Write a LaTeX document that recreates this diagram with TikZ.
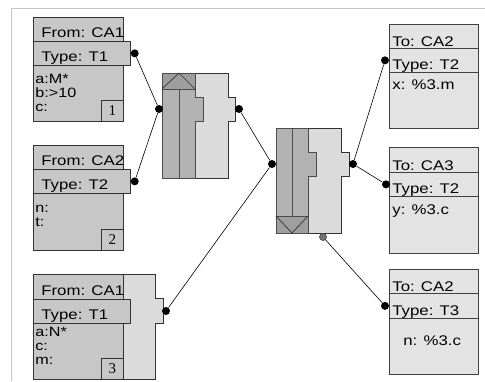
\documentclass[tikz,border=0pt]{standalone}
\usepackage{fontspec}
\setmainfont{Liberation Sans}[FakeStretch=1.2]
\newfontfamily\numfont{Liberation Serif}
\usetikzlibrary{positioning}

\begin{document}
\begin{tikzpicture}[
x=1pt,y=-1pt,
line width=0.7pt,
hd/.style={font=\fontsize{14}{14}\selectfont,inner sep=0pt,anchor=base west},
bd/.style={font=\fontsize{13.5}{14}\selectfont,inner sep=0pt,anchor=base west,align=left},
srcrow/.style={draw=black!80,fill=black!22,inner sep=0pt,anchor=north west,minimum height=24pt},
dstrow/.style={draw=black!75,fill=black!11,inner sep=0pt,anchor=north west,minimum width=89pt,minimum height=24pt},
numbox/.style={draw=black!80,fill=black!22,inner sep=0pt,anchor=south east,minimum width=22pt,minimum height=21pt,font=\numfont\fontsize{15}{15}\selectfont},
dot/.style={circle,fill=black,inner sep=0pt,minimum size=8pt},
gdot/.style={circle,draw=black!70,fill=black!55,inner sep=0pt,minimum size=7pt},
wire/.style={black,line width=0.6pt},
lite/.style={draw=black!80,fill=black!14},
dark/.style={draw=black!70,fill=black!30},
strip/.style={draw=black!70,fill=black!38}]
\useasboundingbox (0,0) rectangle (485,381);
\draw[black!22] (11,381) -- (11,8) -- (485,8);

% source 1
\node[srcrow,minimum width=90pt] (f1) at (33,17) {};
\node[srcrow,minimum width=90pt,minimum height=56pt] (b1) at (33,65) {};
\node[srcrow,minimum width=97pt] (t1) at (33,41) {};
\node[numbox] (n1) at (b1.south east) {1};
\node[hd] (f1t) at ([xshift=8pt,yshift=4pt]f1.south west) {From: CA1};
\node[hd] (t1t) at ([xshift=8pt,yshift=4pt]t1.south west) {Type: T1};
\node[bd] (b1t) at ([xshift=2pt,yshift=-46pt]b1.north west) {a:M*\\b:>10\\c:};
\node[dot] (d1) at ([xshift=4pt]t1.east) {};

% source 2
\node[srcrow,minimum width=90pt] (f2) at (33,145) {};
\node[srcrow,minimum width=90pt,minimum height=57pt] (b2) at (33,193) {};
\node[srcrow,minimum width=97pt] (t2) at (33,169) {};
\node[numbox] (n2) at (b2.south east) {2};
\node[hd] (f2t) at ([xshift=8pt,yshift=4pt]f2.south west) {From: CA2};
\node[hd] (t2t) at ([xshift=8pt,yshift=4pt]t2.south west) {Type: T2};
\node[bd] (b2t) at ([xshift=2pt,yshift=-33pt]b2.north west) {n:\\t:};
\node[dot] (d2) at ([xshift=4pt]t2.east) {};

% source 3 with its panel
\draw[lite] (123,274) -- (155,274) -- (155,298) -- (163,298) -- (163,323)
  -- (155,323) -- (155,379) -- (123,379) -- cycle;
\node[srcrow,minimum width=90pt,minimum height=25pt] (f3) at (33,274) {};
\node[srcrow,minimum width=90pt,minimum height=56pt] (b3) at (33,323) {};
\node[srcrow,minimum width=97pt] (t3) at (33,299) {};
\node[numbox] (n3) at (b3.south east) {3};
\node[hd] (f3t) at ([xshift=8pt,yshift=4pt]f3.south west) {From: CA1};
\node[hd] (t3t) at ([xshift=8pt,yshift=4pt]t3.south west) {Type: T1};
\node[bd] (b3t) at ([xshift=2pt,yshift=-41pt]b3.north west) {a:N*\\c:\\m:};
\node[dot] (d3) at (166,311) {};

% first joint
\draw[lite] (195,73) -- (228,73) -- (228,97) -- (235,97) -- (235,121)
  -- (228,121) -- (228,178) -- (195,178) -- cycle;
\draw[dark] (162,73) rectangle (195,178);
\fill[black!30] (195,97) rectangle (203,121);
\draw[black!70] (195,97) -- (203,97) -- (203,121) -- (195,121);
\draw[black!70] (179,89) -- (179,178);
\draw[strip] (162,73) rectangle (195,89);
\draw[black!80] (162,89) -- (179,73) -- (195,89);
\node[dot] (j1) at (159,109) {};
\node[dot] (j1o) at (239,109) {};

% second joint
\draw[lite] (308,128) -- (341,128) -- (341,152) -- (349,152) -- (349,176)
  -- (341,176) -- (341,233) -- (308,233) -- cycle;
\draw[dark] (276,128) rectangle (308,233);
\fill[black!30] (308,152) rectangle (316,176);
\draw[black!70] (308,152) -- (316,152) -- (316,176) -- (308,176);
\draw[black!70] (292,128) -- (292,216);
\draw[strip] (276,216) rectangle (308,233);
\draw[black!80] (276,216) -- (292,233) -- (308,216);
\node[dot] (j2) at (272,164) {};
\node[dot] (j2o) at (353,164) {};
\node[gdot] (g2) at (323,237) {};

% targets
\node[dstrow] (r4) at (389,24) {};
\node[dstrow] (s4) at (389,48) {};
\node[dstrow,minimum height=56pt] (v4) at (389,72) {};
\node[hd] (r4t) at ([xshift=3pt,yshift=2pt]r4.south west) {To: CA2};
\node[hd] (s4t) at ([xshift=3pt,yshift=3pt]s4.south west) {Type: T2};
\node[bd,font=\fontsize{14}{14}\selectfont] (v4t) at ([xshift=3pt,yshift=-17pt]v4.north west) {x: \%3.m};
\node[dot] (e4) at ([xshift=-4pt]s4.west) {};

\node[dstrow,minimum height=25pt] (r5) at (389,147) {};
\node[dstrow] (s5) at (389,172) {};
\node[dstrow,minimum height=57pt] (v5) at (389,196) {};
\node[hd] (r5t) at ([xshift=3pt,yshift=2pt]r5.south west) {To: CA3};
\node[hd] (s5t) at ([xshift=3pt,yshift=3pt]s5.south west) {Type: T2};
\node[bd,font=\fontsize{14}{14}\selectfont] (v5t) at ([xshift=3pt,yshift=-18pt]v5.north west) {y: \%3.c};
\node[dot] (e5) at ([xshift=-3pt]s5.west) {};

\node[dstrow] (r6) at (389,269) {};
\node[dstrow,minimum height=25pt] (s6) at (389,293) {};
\node[dstrow,minimum height=56pt] (v6) at (389,318) {};
\node[hd] (r6t) at ([xshift=3pt,yshift=2pt]r6.south west) {To: CA2};
\node[hd] (s6t) at ([xshift=3pt,yshift=3pt]s6.south west) {Type: T3};
\node[bd,font=\fontsize{14}{14}\selectfont] (v6t) at ([xshift=14pt,yshift=-27pt]v6.north west) {n: \%3.c};
\node[dot] (e6) at ([xshift=-4pt]s6.west) {};

% connectors
\draw[wire] (d1) -- (j1);
\draw[wire] (d2) -- (j1);
\draw[wire] (j1o) -- (j2);
\draw[wire] (d3) -- (j2);
\draw[wire] (j2o) -- (e4);
\draw[wire] (j2o) -- (e5);
\draw[wire] (g2) -- (e6);
\end{tikzpicture}
\end{document}
